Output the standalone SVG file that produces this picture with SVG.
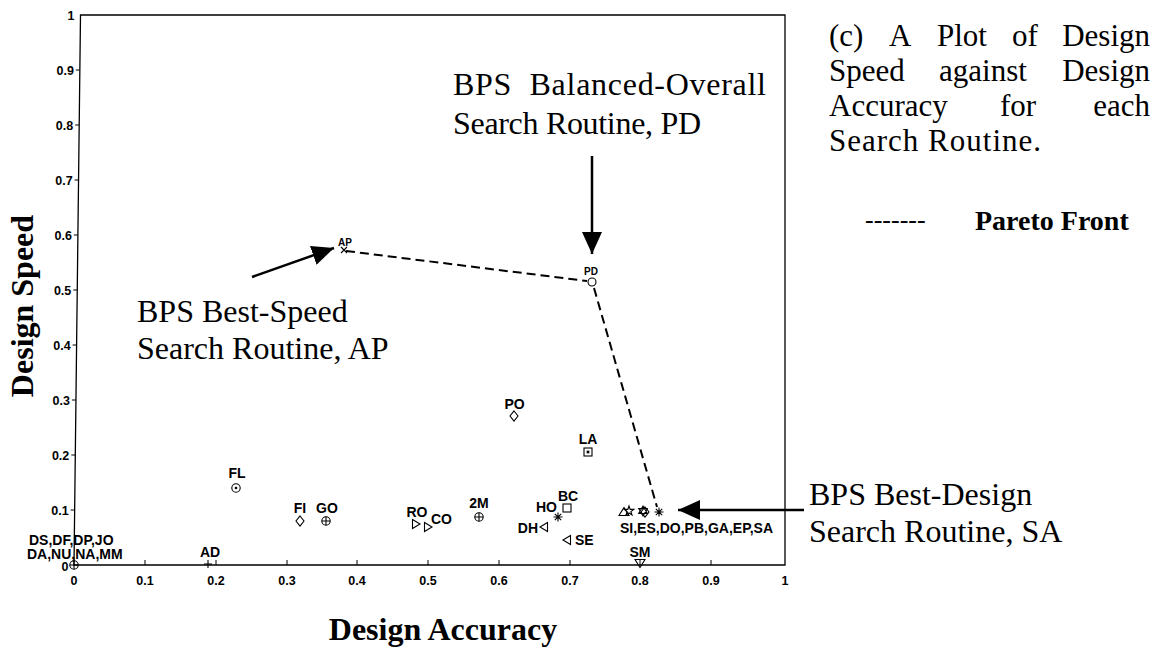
<svg xmlns="http://www.w3.org/2000/svg" width="1165" height="648" viewBox="0 0 1165 648">
  <style>
    .frame { fill: none; stroke: #000; stroke-width: 1.3; }
    .tick { fill: none; stroke: #000; stroke-width: 1; }
    .mk { fill: none; stroke: #000; stroke-width: 1.1; }
    .tl { font-family: "Liberation Sans", Arial, sans-serif; font-weight: bold; font-size: 12.5px; fill: #000; }
    .pl { font-family: "Liberation Sans", Arial, sans-serif; font-weight: bold; font-size: 14px; fill: #000; }
    .ps { font-family: "Liberation Sans", Arial, sans-serif; font-weight: bold; font-size: 10px; fill: #000; }
    .ann { font-family: "Liberation Serif", "Times New Roman", serif; font-size: 32px; fill: #000; }
    .cap { font-family: "Liberation Serif", "Times New Roman", serif; font-size: 31px; fill: #000; }
    .axt { font-family: "Liberation Serif", "Times New Roman", serif; font-weight: bold; font-size: 32px; fill: #000; }
    .lgd { font-family: "Liberation Serif", "Times New Roman", serif; font-weight: bold; font-size: 28px; fill: #000; }
    .pareto { fill: none; stroke: #000; stroke-width: 2; stroke-dasharray: 9 5; }
    .arrow { fill: none; stroke: #000; stroke-width: 2.5; marker-end: url(#head); }
  </style>
  <defs>
    <marker id="head" viewBox="0 0 22 20" markerUnits="userSpaceOnUse" markerWidth="22" markerHeight="20" refX="22" refY="10" orient="auto">
      <path d="M0,0 L22,10 L0,20 Z" fill="#000"/>
    </marker>
    <!-- plot symbols, centred on 0,0 -->
    <circle id="m-circ" class="mk" r="4"/>
    <g id="m-oplus" class="mk"><circle r="4.2"/><path d="M-4.2,0H4.2M0,-4.2V4.2"/></g>
    <g id="m-odot" class="mk"><circle r="4.2"/><circle r="0.8" fill="#000"/></g>
    <path id="m-diam" class="mk" d="M0,-5 L4,0 L0,5 L-4,0 Z"/>
    <rect id="m-sq" class="mk" x="-4" y="-4" width="8" height="8"/>
    <g id="m-sqdot" class="mk"><rect x="-4" y="-4" width="8" height="8"/><rect x="-0.8" y="-0.8" width="1.6" height="1.6" fill="#000"/></g>
    <path id="m-tri-r" class="mk" d="M-3.5,-4.5 L4,0 L-3.5,4.5 Z"/>
    <path id="m-tri-l" class="mk" d="M3.5,-4.5 L-4,0 L3.5,4.5 Z"/>
    <path id="m-tri-d" class="mk" d="M-5,-3.5 L5,-3.5 L0,4.5 Z"/>
    <path id="m-tri-u" class="mk" d="M-5,3.5 L5,3.5 L0,-4.5 Z"/>
    <path id="m-plus" class="mk" d="M-4,0H4M0,-4V4"/>
    <path id="m-x" class="mk" d="M-3,-3L3,3M-3,3L3,-3"/>
    <path id="m-ast" class="mk" d="M-4.5,0H4.5M0,-4.5V4.5M-3.2,-3.2L3.2,3.2M-3.2,3.2L3.2,-3.2"/>
    <path id="m-pent" class="mk" d="M0,-5 L1.2,-1.6 L4.8,-1.6 L1.9,0.6 L3,4 L0,2 L-3,4 L-1.9,0.6 L-4.8,-1.6 L-1.2,-1.6 Z"/>
    <path id="m-hex" class="mk" d="M0,-5 L4.3,2.5 L-4.3,2.5 Z M0,5 L4.3,-2.5 L-4.3,-2.5 Z"/>
  </defs>

  <rect width="1165" height="648" fill="#fff"/>

  <!-- axes box with ticks -->
  <g id="axes">
    <path class="frame" d="M80.5,15 L785,15 L785,565 L74,565 Z"/>
    <path class="tick" d="M70.65,510H74.65M71.3,455H75.3M71.95,400H75.95M72.6,345H76.6M73.25,290H77.25M73.9,235H77.9M74.55,180H78.55M75.2,125H79.2M75.85,70H79.85
      M145,565V560M216,565V560M287,565V560M357,565V560M428,565V560M499,565V560M570,565V560M640,565V560M711,565V560"/>
    <g class="tl" text-anchor="end">
      <text x="68.5" y="571">0</text>
      <text x="68.7" y="514.5">0.1</text>
      <text x="69.3" y="459.5">0.2</text>
      <text x="70" y="404.5">0.3</text>
      <text x="70.6" y="349.5">0.4</text>
      <text x="71.3" y="294.5">0.5</text>
      <text x="71.9" y="239.5">0.6</text>
      <text x="72.6" y="184.5">0.7</text>
      <text x="73.2" y="129.5">0.8</text>
      <text x="73.9" y="74.5">0.9</text>
      <text x="74.5" y="19.5">1</text>
    </g>
    <g class="tl" text-anchor="middle">
      <text x="74" y="585">0</text>
      <text x="145" y="585">0.1</text>
      <text x="216" y="585">0.2</text>
      <text x="287" y="585">0.3</text>
      <text x="357" y="585">0.4</text>
      <text x="428" y="585">0.5</text>
      <text x="499" y="585">0.6</text>
      <text x="570" y="585">0.7</text>
      <text x="640" y="585">0.8</text>
      <text x="711" y="585">0.9</text>
      <text x="785" y="585">1</text>
    </g>
    <text class="axt" x="443" y="640" text-anchor="middle">Design Accuracy</text>
    <text class="axt" transform="translate(33,306) rotate(-90)" text-anchor="middle">Design Speed</text>
  </g>

  <!-- Pareto front and pointer arrows -->
  <g id="connectors">
    <path class="pareto" d="M346,251 L587,281 M594,288 L657,507"/>
    <line class="arrow" x1="252" y1="277" x2="334" y2="248"/>
    <line class="arrow" x1="592" y1="156" x2="592" y2="254"/>
    <line class="arrow" x1="804" y1="510" x2="678" y2="510"/>
  </g>

  <!-- search routines -->
  <g id="node-origin">
    <use href="#m-oplus" x="74" y="565" style="stroke-width:1.6"/>
    <text class="pl" x="29" y="545">DS,DF,DP,JO</text>
    <text class="pl" x="27" y="558.5">DA,NU,NA,MM</text>
  </g>
  <g id="node-AD">
    <use href="#m-plus" x="208" y="564"/>
    <text class="pl" x="210" y="557" text-anchor="middle">AD</text>
  </g>
  <g id="node-FL">
    <use href="#m-odot" x="236" y="488"/>
    <text class="pl" x="237" y="478" text-anchor="middle">FL</text>
  </g>
  <g id="node-FI">
    <use href="#m-diam" x="300" y="521"/>
    <text class="pl" x="300" y="513" text-anchor="middle">FI</text>
  </g>
  <g id="node-GO">
    <use href="#m-oplus" x="326" y="521"/>
    <text class="pl" x="327" y="513" text-anchor="middle">GO</text>
  </g>
  <g id="node-RO">
    <use href="#m-tri-r" x="416" y="524"/>
    <text class="pl" x="417" y="517" text-anchor="middle">RO</text>
  </g>
  <g id="node-CO">
    <use href="#m-tri-r" x="428" y="527"/>
    <text class="pl" x="431" y="524">CO</text>
  </g>
  <g id="node-2M">
    <use href="#m-oplus" x="479" y="517"/>
    <text class="pl" x="479" y="508" text-anchor="middle">2M</text>
  </g>
  <g id="node-PO">
    <use href="#m-diam" x="514" y="416"/>
    <text class="pl" x="514.5" y="409" text-anchor="middle">PO</text>
  </g>
  <g id="node-LA">
    <use href="#m-sqdot" x="588" y="452"/>
    <text class="pl" x="588" y="444" text-anchor="middle">LA</text>
  </g>
  <g id="node-BC">
    <use href="#m-sq" x="567" y="508"/>
    <text class="pl" x="568" y="501" text-anchor="middle">BC</text>
  </g>
  <g id="node-HO">
    <use href="#m-ast" x="558" y="517" style="stroke-width:1.5"/>
    <text class="pl" x="557" y="511.5" text-anchor="end">HO</text>
  </g>
  <g id="node-DH">
    <use href="#m-tri-l" x="544" y="527"/>
    <text class="pl" x="538" y="532.5" text-anchor="end">DH</text>
  </g>
  <g id="node-SE">
    <use href="#m-tri-l" x="567" y="540"/>
    <text class="pl" x="575" y="545">SE</text>
  </g>
  <g id="node-SM">
    <use href="#m-tri-d" x="640" y="563"/>
    <text class="pl" x="640" y="556.5" text-anchor="middle">SM</text>
  </g>
  <g id="node-cluster">
    <use href="#m-tri-u" x="624" y="512"/>
    <use href="#m-pent" x="629" y="511"/>
    <use href="#m-hex" x="643" y="511"/>
    <use href="#m-diam" x="645" y="512"/>
    <use href="#m-ast" x="659" y="512"/>
    <text class="pl" x="620" y="533">SI,ES,DO,PB,GA,EP,SA</text>
  </g>
  <g id="node-PD">
    <use href="#m-circ" x="592" y="282"/>
    <text class="ps" x="591" y="275" text-anchor="middle">PD</text>
  </g>
  <g id="node-AP">
    <use href="#m-x" x="344" y="250"/>
    <text class="ps" x="345" y="246" text-anchor="middle">AP</text>
  </g>

  <!-- annotations -->
  <g id="note-PD">
    <text class="ann" x="453" y="95" xml:space="preserve" textLength="313" lengthAdjust="spacing">BPS  Balanced-Overall</text>
    <text class="ann" x="453" y="134" textLength="248" lengthAdjust="spacing">Search Routine, PD</text>
  </g>
  <g id="note-AP">
    <text class="ann" x="137" y="322">BPS Best-Speed</text>
    <text class="ann" x="137" y="359">Search Routine, AP</text>
  </g>
  <g id="note-SA">
    <text class="ann" x="809" y="505">BPS Best-Design</text>
    <text class="ann" x="809" y="542">Search Routine, SA</text>
  </g>

  <!-- caption and legend -->
  <g id="caption">
    <text class="cap" y="46"><tspan x="829">(c)</tspan><tspan x="889">A</tspan><tspan x="937">Plot</tspan><tspan x="1012">of</tspan><tspan x="1150" text-anchor="end">Design</tspan></text>
    <text class="cap" y="81"><tspan x="829">Speed</tspan><tspan x="939">against</tspan><tspan x="1150" text-anchor="end">Design</tspan></text>
    <text class="cap" y="116"><tspan x="829">Accuracy</tspan><tspan x="1000">for</tspan><tspan x="1150" text-anchor="end">each</tspan></text>
    <text class="cap" x="829" y="151" textLength="212" lengthAdjust="spacing">Search Routine.</text>
  </g>
  <g id="legend">
    <text class="cap" x="865" y="228" style="font-size:26px">-------</text>
    <text class="lgd" x="975" y="230">Pareto Front</text>
  </g>
</svg>
